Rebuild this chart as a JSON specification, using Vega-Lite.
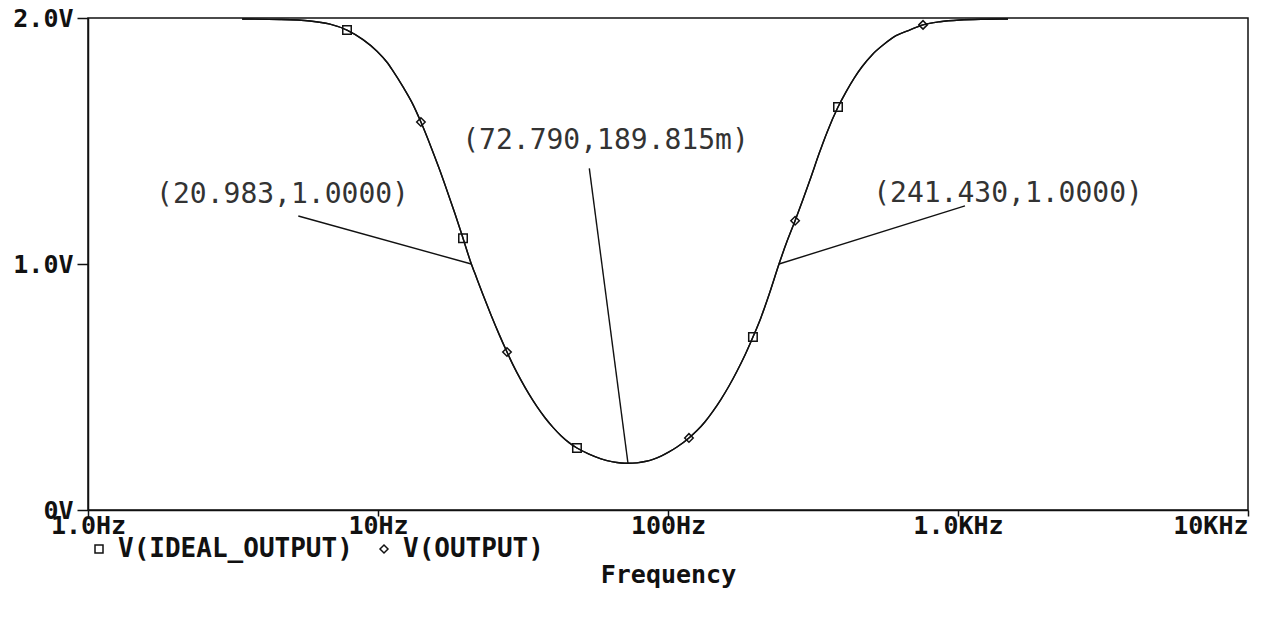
{
  "$schema": "https://vega.github.io/schema/vega-lite/v6.json",
  "width": 1160,
  "height": 492,
  "autosize": "none",
  "padding": {"left": 88, "top": 18, "right": 14, "bottom": 107},
  "background": "white",
  "config": {"view": {"stroke": "#111", "strokeWidth": 1.5}},
  "datasets": {
    "curve": [
      {"series": "V(IDEAL_OUTPUT)", "f": 3.40, "V": 1.996}, {"series": "V(IDEAL_OUTPUT)", "f": 4.594, "V": 1.994},
      {"series": "V(IDEAL_OUTPUT)", "f": 5.83, "V": 1.988}, {"series": "V(IDEAL_OUTPUT)", "f": 6.831, "V": 1.975},
      {"series": "V(IDEAL_OUTPUT)", "f": 7.818, "V": 1.951}, {"series": "V(IDEAL_OUTPUT)", "f": 8.878, "V": 1.912},
      {"series": "V(IDEAL_OUTPUT)", "f": 9.922, "V": 1.865}, {"series": "V(IDEAL_OUTPUT)", "f": 10.74, "V": 1.820},
      {"series": "V(IDEAL_OUTPUT)", "f": 11.26, "V": 1.785}, {"series": "V(IDEAL_OUTPUT)", "f": 12.20, "V": 1.720},
      {"series": "V(IDEAL_OUTPUT)", "f": 13.10, "V": 1.656}, {"series": "V(IDEAL_OUTPUT)", "f": 14.06, "V": 1.577},
      {"series": "V(IDEAL_OUTPUT)", "f": 15.23, "V": 1.476}, {"series": "V(IDEAL_OUTPUT)", "f": 16.23, "V": 1.390},
      {"series": "V(IDEAL_OUTPUT)", "f": 17.29, "V": 1.299}, {"series": "V(IDEAL_OUTPUT)", "f": 18.43, "V": 1.204},
      {"series": "V(IDEAL_OUTPUT)", "f": 19.64, "V": 1.105}, {"series": "V(IDEAL_OUTPUT)", "f": 20.983, "V": 1.000},
      {"series": "V(IDEAL_OUTPUT)", "f": 21.60, "V": 0.961}, {"series": "V(IDEAL_OUTPUT)", "f": 23.02, "V": 0.875},
      {"series": "V(IDEAL_OUTPUT)", "f": 24.53, "V": 0.793}, {"series": "V(IDEAL_OUTPUT)", "f": 26.14, "V": 0.715},
      {"series": "V(IDEAL_OUTPUT)", "f": 27.85, "V": 0.642}, {"series": "V(IDEAL_OUTPUT)", "f": 29.21, "V": 0.590},
      {"series": "V(IDEAL_OUTPUT)", "f": 31.12, "V": 0.528}, {"series": "V(IDEAL_OUTPUT)", "f": 33.17, "V": 0.471},
      {"series": "V(IDEAL_OUTPUT)", "f": 35.34, "V": 0.420}, {"series": "V(IDEAL_OUTPUT)", "f": 37.66, "V": 0.375},
      {"series": "V(IDEAL_OUTPUT)", "f": 40.13, "V": 0.336}, {"series": "V(IDEAL_OUTPUT)", "f": 42.76, "V": 0.302},
      {"series": "V(IDEAL_OUTPUT)", "f": 45.57, "V": 0.274}, {"series": "V(IDEAL_OUTPUT)", "f": 48.54, "V": 0.252},
      {"series": "V(IDEAL_OUTPUT)", "f": 53.41, "V": 0.227}, {"series": "V(IDEAL_OUTPUT)", "f": 58.75, "V": 0.208},
      {"series": "V(IDEAL_OUTPUT)", "f": 64.61, "V": 0.1957}, {"series": "V(IDEAL_OUTPUT)", "f": 68.85, "V": 0.1913},
      {"series": "V(IDEAL_OUTPUT)", "f": 72.79, "V": 0.1898}, {"series": "V(IDEAL_OUTPUT)", "f": 78.18, "V": 0.1916},
      {"series": "V(IDEAL_OUTPUT)", "f": 83.31, "V": 0.197}, {"series": "V(IDEAL_OUTPUT)", "f": 88.79, "V": 0.206},
      {"series": "V(IDEAL_OUTPUT)", "f": 94.61, "V": 0.219}, {"series": "V(IDEAL_OUTPUT)", "f": 100.8, "V": 0.236},
      {"series": "V(IDEAL_OUTPUT)", "f": 107.4, "V": 0.256}, {"series": "V(IDEAL_OUTPUT)", "f": 118.1, "V": 0.293},
      {"series": "V(IDEAL_OUTPUT)", "f": 125.9, "V": 0.323}, {"series": "V(IDEAL_OUTPUT)", "f": 134.2, "V": 0.359},
      {"series": "V(IDEAL_OUTPUT)", "f": 143.0, "V": 0.402}, {"series": "V(IDEAL_OUTPUT)", "f": 152.3, "V": 0.450},
      {"series": "V(IDEAL_OUTPUT)", "f": 162.3, "V": 0.504}, {"series": "V(IDEAL_OUTPUT)", "f": 172.9, "V": 0.564},
      {"series": "V(IDEAL_OUTPUT)", "f": 184.3, "V": 0.630}, {"series": "V(IDEAL_OUTPUT)", "f": 196.3, "V": 0.703},
      {"series": "V(IDEAL_OUTPUT)", "f": 209.3, "V": 0.783}, {"series": "V(IDEAL_OUTPUT)", "f": 223.0, "V": 0.875},
      {"series": "V(IDEAL_OUTPUT)", "f": 241.43, "V": 1.000}, {"series": "V(IDEAL_OUTPUT)", "f": 257.3, "V": 1.092},
      {"series": "V(IDEAL_OUTPUT)", "f": 274.3, "V": 1.176}, {"series": "V(IDEAL_OUTPUT)", "f": 292.2, "V": 1.263},
      {"series": "V(IDEAL_OUTPUT)", "f": 311.3, "V": 1.354}, {"series": "V(IDEAL_OUTPUT)", "f": 331.7, "V": 1.448},
      {"series": "V(IDEAL_OUTPUT)", "f": 353.4, "V": 1.535}, {"series": "V(IDEAL_OUTPUT)", "f": 385.7, "V": 1.638},
      {"series": "V(IDEAL_OUTPUT)", "f": 411.1, "V": 1.700}, {"series": "V(IDEAL_OUTPUT)", "f": 438.0, "V": 1.755},
      {"series": "V(IDEAL_OUTPUT)", "f": 466.7, "V": 1.802}, {"series": "V(IDEAL_OUTPUT)", "f": 505.2, "V": 1.850},
      {"series": "V(IDEAL_OUTPUT)", "f": 555.6, "V": 1.893}, {"series": "V(IDEAL_OUTPUT)", "f": 611.3, "V": 1.928},
      {"series": "V(IDEAL_OUTPUT)", "f": 683.2, "V": 1.952}, {"series": "V(IDEAL_OUTPUT)", "f": 757.5, "V": 1.972},
      {"series": "V(IDEAL_OUTPUT)", "f": 866.9, "V": 1.985}, {"series": "V(IDEAL_OUTPUT)", "f": 1016, "V": 1.992},
      {"series": "V(IDEAL_OUTPUT)", "f": 1239, "V": 1.995}, {"series": "V(IDEAL_OUTPUT)", "f": 1487, "V": 1.996},
      {"series": "V(OUTPUT)", "f": 3.40, "V": 1.996}, {"series": "V(OUTPUT)", "f": 4.594, "V": 1.994},
      {"series": "V(OUTPUT)", "f": 5.83, "V": 1.988}, {"series": "V(OUTPUT)", "f": 6.831, "V": 1.975},
      {"series": "V(OUTPUT)", "f": 7.818, "V": 1.951}, {"series": "V(OUTPUT)", "f": 8.878, "V": 1.912},
      {"series": "V(OUTPUT)", "f": 9.922, "V": 1.865}, {"series": "V(OUTPUT)", "f": 10.74, "V": 1.820},
      {"series": "V(OUTPUT)", "f": 11.26, "V": 1.785}, {"series": "V(OUTPUT)", "f": 12.20, "V": 1.720},
      {"series": "V(OUTPUT)", "f": 13.10, "V": 1.656}, {"series": "V(OUTPUT)", "f": 14.06, "V": 1.577},
      {"series": "V(OUTPUT)", "f": 15.23, "V": 1.476}, {"series": "V(OUTPUT)", "f": 16.23, "V": 1.390},
      {"series": "V(OUTPUT)", "f": 17.29, "V": 1.299}, {"series": "V(OUTPUT)", "f": 18.43, "V": 1.204},
      {"series": "V(OUTPUT)", "f": 19.64, "V": 1.105}, {"series": "V(OUTPUT)", "f": 20.983, "V": 1.000},
      {"series": "V(OUTPUT)", "f": 21.60, "V": 0.961}, {"series": "V(OUTPUT)", "f": 23.02, "V": 0.875},
      {"series": "V(OUTPUT)", "f": 24.53, "V": 0.793}, {"series": "V(OUTPUT)", "f": 26.14, "V": 0.715},
      {"series": "V(OUTPUT)", "f": 27.85, "V": 0.642}, {"series": "V(OUTPUT)", "f": 29.21, "V": 0.590},
      {"series": "V(OUTPUT)", "f": 31.12, "V": 0.528}, {"series": "V(OUTPUT)", "f": 33.17, "V": 0.471},
      {"series": "V(OUTPUT)", "f": 35.34, "V": 0.420}, {"series": "V(OUTPUT)", "f": 37.66, "V": 0.375},
      {"series": "V(OUTPUT)", "f": 40.13, "V": 0.336}, {"series": "V(OUTPUT)", "f": 42.76, "V": 0.302},
      {"series": "V(OUTPUT)", "f": 45.57, "V": 0.274}, {"series": "V(OUTPUT)", "f": 48.54, "V": 0.252},
      {"series": "V(OUTPUT)", "f": 53.41, "V": 0.227}, {"series": "V(OUTPUT)", "f": 58.75, "V": 0.208},
      {"series": "V(OUTPUT)", "f": 64.61, "V": 0.1957}, {"series": "V(OUTPUT)", "f": 68.85, "V": 0.1913},
      {"series": "V(OUTPUT)", "f": 72.79, "V": 0.1898}, {"series": "V(OUTPUT)", "f": 78.18, "V": 0.1916},
      {"series": "V(OUTPUT)", "f": 83.31, "V": 0.197}, {"series": "V(OUTPUT)", "f": 88.79, "V": 0.206},
      {"series": "V(OUTPUT)", "f": 94.61, "V": 0.219}, {"series": "V(OUTPUT)", "f": 100.8, "V": 0.236},
      {"series": "V(OUTPUT)", "f": 107.4, "V": 0.256}, {"series": "V(OUTPUT)", "f": 118.1, "V": 0.293},
      {"series": "V(OUTPUT)", "f": 125.9, "V": 0.323}, {"series": "V(OUTPUT)", "f": 134.2, "V": 0.359},
      {"series": "V(OUTPUT)", "f": 143.0, "V": 0.402}, {"series": "V(OUTPUT)", "f": 152.3, "V": 0.450},
      {"series": "V(OUTPUT)", "f": 162.3, "V": 0.504}, {"series": "V(OUTPUT)", "f": 172.9, "V": 0.564},
      {"series": "V(OUTPUT)", "f": 184.3, "V": 0.630}, {"series": "V(OUTPUT)", "f": 196.3, "V": 0.703},
      {"series": "V(OUTPUT)", "f": 209.3, "V": 0.783}, {"series": "V(OUTPUT)", "f": 223.0, "V": 0.875},
      {"series": "V(OUTPUT)", "f": 241.43, "V": 1.000}, {"series": "V(OUTPUT)", "f": 257.3, "V": 1.092},
      {"series": "V(OUTPUT)", "f": 274.3, "V": 1.176}, {"series": "V(OUTPUT)", "f": 292.2, "V": 1.263},
      {"series": "V(OUTPUT)", "f": 311.3, "V": 1.354}, {"series": "V(OUTPUT)", "f": 331.7, "V": 1.448},
      {"series": "V(OUTPUT)", "f": 353.4, "V": 1.535}, {"series": "V(OUTPUT)", "f": 385.7, "V": 1.638},
      {"series": "V(OUTPUT)", "f": 411.1, "V": 1.700}, {"series": "V(OUTPUT)", "f": 438.0, "V": 1.755},
      {"series": "V(OUTPUT)", "f": 466.7, "V": 1.802}, {"series": "V(OUTPUT)", "f": 505.2, "V": 1.850},
      {"series": "V(OUTPUT)", "f": 555.6, "V": 1.893}, {"series": "V(OUTPUT)", "f": 611.3, "V": 1.928},
      {"series": "V(OUTPUT)", "f": 683.2, "V": 1.952}, {"series": "V(OUTPUT)", "f": 757.5, "V": 1.972},
      {"series": "V(OUTPUT)", "f": 866.9, "V": 1.985}, {"series": "V(OUTPUT)", "f": 1016, "V": 1.992},
      {"series": "V(OUTPUT)", "f": 1239, "V": 1.995}, {"series": "V(OUTPUT)", "f": 1487, "V": 1.996}
    ],
    "markers": [
      {"series": "V(IDEAL_OUTPUT)", "f": 7.818, "V": 1.951},
      {"series": "V(IDEAL_OUTPUT)", "f": 19.64, "V": 1.105},
      {"series": "V(IDEAL_OUTPUT)", "f": 48.54, "V": 0.252},
      {"series": "V(IDEAL_OUTPUT)", "f": 196.3, "V": 0.703},
      {"series": "V(IDEAL_OUTPUT)", "f": 385.7, "V": 1.638},
      {"series": "V(OUTPUT)", "f": 14.06, "V": 1.577},
      {"series": "V(OUTPUT)", "f": 27.85, "V": 0.642},
      {"series": "V(OUTPUT)", "f": 118.1, "V": 0.293},
      {"series": "V(OUTPUT)", "f": 274.3, "V": 1.176},
      {"series": "V(OUTPUT)", "f": 757.5, "V": 1.972}
    ],
    "leaders": [
      {"f": 5.311, "V": 1.195, "f2": 20.983, "V2": 1.0},
      {"f": 53.54, "V": 1.389, "f2": 72.79, "V2": 0.1898},
      {"f": 1057, "V": 1.236, "f2": 241.43, "V2": 1.0}
    ],
    "labels": [
      {"f": 4.686, "V": 1.28, "label": "(20.983,1.0000)"},
      {"f": 60.87, "V": 1.50, "label": "(72.790,189.815m)"},
      {"f": 1487.6, "V": 1.285, "label": "(241.430,1.0000)"}
    ]
  },
  "encoding": {
    "x": {
      "field": "f", "type": "quantitative", "title": "Frequency",
      "scale": {"type": "log", "domain": [1, 10000], "nice": false},
      "axis": {
        "values": [1, 10, 100, 1000, 10000],
        "labelExpr": "datum.value == 1 ? '1.0Hz' : datum.value == 10 ? '10Hz' : datum.value == 100 ? '100Hz' : datum.value == 1000 ? '1.0KHz' : '10KHz'",
        "labelAlign": {"expr": "datum.value == 10000 ? 'right' : 'center'"},
        "labelFont": "DejaVu Sans Mono", "labelFontWeight": "bold", "labelFontSize": 25, "labelColor": "#111",
        "labelPadding": -3, "labelOverlap": false, "labelBound": false, "labelFlush": false,
        "tickSize": 6, "tickWidth": 1.5, "tickColor": "#111",
        "domainColor": "#111", "domainWidth": 1.5, "grid": false,
        "titleFont": "DejaVu Sans Mono", "titleFontWeight": "bold", "titleFontSize": 25, "titleColor": "#111",
        "titlePadding": 24
      }
    },
    "y": {
      "field": "V", "type": "quantitative", "title": null,
      "scale": {"domain": [0, 2], "nice": false, "zero": false},
      "axis": {
        "values": [0, 1, 2],
        "labelExpr": "datum.value == 0 ? '0V' : format(datum.value, '.1f') + 'V'",
        "labelFont": "DejaVu Sans Mono", "labelFontWeight": "bold", "labelFontSize": 25, "labelColor": "#111",
        "labelPadding": 4, "labelOverlap": false, "labelBound": false, "labelFlush": false,
        "tickSize": 11, "tickWidth": 1.5, "tickColor": "#111",
        "domainColor": "#111", "domainWidth": 1.5, "grid": false
      }
    }
  },
  "layer": [
    {
      "data": {"name": "curve"},
      "mark": {"type": "line", "interpolate": "monotone", "color": "#111", "strokeWidth": 1.4},
      "encoding": {"detail": {"field": "series"}}
    },
    {
      "data": {"name": "leaders"},
      "mark": {"type": "rule", "color": "#111", "strokeWidth": 1.4},
      "encoding": {"x2": {"field": "f2"}, "y2": {"field": "V2"}}
    },
    {
      "data": {"name": "markers"},
      "mark": {"type": "point", "filled": false, "color": "#111", "strokeWidth": 1.5, "size": 72, "opacity": 1},
      "encoding": {
        "shape": {
          "field": "series", "type": "nominal",
          "scale": {"domain": ["V(IDEAL_OUTPUT)", "V(OUTPUT)"], "range": ["square", "diamond"]},
          "legend": {
            "orient": "none", "legendX": -2, "legendY": 518, "direction": "horizontal", "title": null,
            "labelFont": "DejaVu Sans Mono", "labelFontWeight": "bold", "labelFontSize": 26, "labelColor": "#111",
            "labelLimit": 0, "symbolSize": 64, "symbolStrokeWidth": 1.5,
            "labelOffset": 6, "columnPadding": 18, "padding": 0
          }
        }
      }
    },
    {
      "data": {"name": "labels"},
      "mark": {"type": "text", "font": "DejaVu Sans Mono", "fontSize": 28, "color": "#333", "align": "center", "baseline": "middle"},
      "encoding": {"text": {"field": "label"}}
    }
  ]
}
